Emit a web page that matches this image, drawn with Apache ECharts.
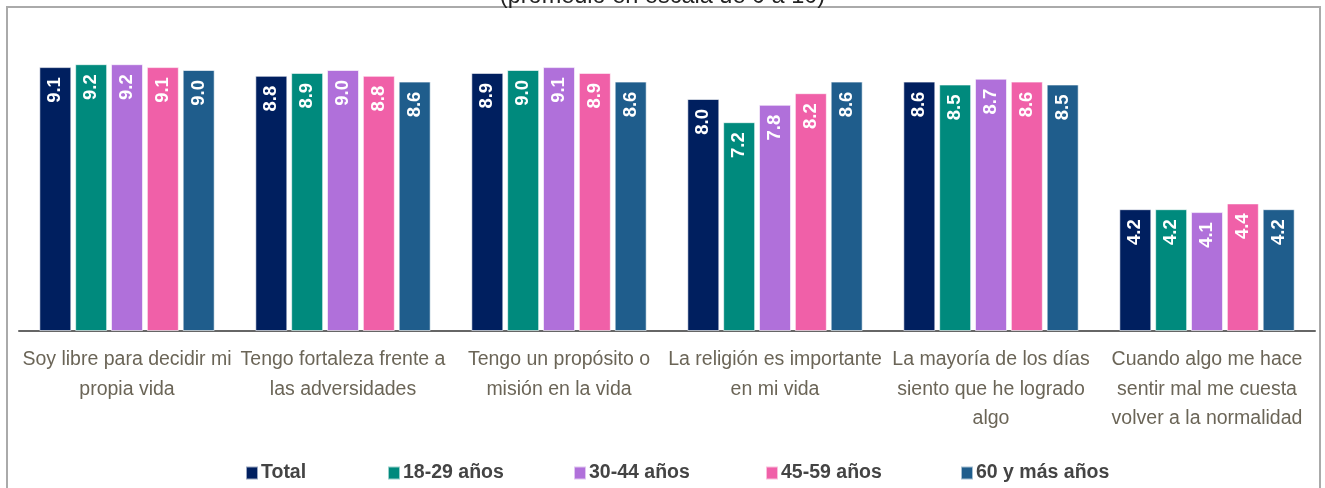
<!DOCTYPE html>
<html>
<head>
<meta charset="utf-8">
<script src="https://cdn.jsdelivr.net/npm/echarts@6/dist/echarts.min.js"></script>
<style>
html, body { margin: 0; padding: 0; background: #fff; }
#main { width: 1325px; height: 488px; }
</style>
</head>
<body>
<div id="main"></div>
<script>
var categories = [
  'Soy libre para decidir mi\npropia vida',
  'Tengo fortaleza frente a\nlas adversidades',
  'Tengo un propósito o\nmisión en la vida',
  'La religión es importante\nen mi vida',
  'La mayoría de los días\nsiento que he logrado\nalgo',
  'Cuando algo me hace\nsentir mal me cuesta\nvolver a la normalidad'
];
var seriesNames = ['Total', '18-29 años', '30-44 años', '45-59 años', '60 y más años'];
var total = [9.1, 8.8, 8.9, 8.0, 8.6, 4.2];
var age18_29 = [9.2, 8.9, 9.0, 7.2, 8.5, 4.2];
var age30_44 = [9.2, 9.0, 9.1, 7.8, 8.7, 4.1];
var age45_59 = [9.1, 8.8, 8.9, 8.2, 8.6, 4.4];
var age60 = [9.0, 8.6, 8.6, 8.6, 8.5, 4.2];
var colors = ['#001f5f', '#008a7d', '#b070da', '#f060a8', '#1f5d8c'];
var legendLeft = [240, 382, 568, 760, 955];

var font = '"Liberation Sans", Arial, sans-serif';

var chart1 = echarts.init(document.getElementById('main'));

var allData = [total, age18_29, age30_44, age45_59, age60];

var series = allData.map(function (d, i) {
  return {
    name: seriesNames[i],
    type: 'bar',
    data: d,
    barWidth: 32,
    barGap: '12%',
    itemStyle: { color: colors[i], borderColor: 'rgba(255,255,255,0.6)', borderWidth: 1 },
    label: {
      show: true,
      position: 'insideTop',
      rotate: 90,
      align: 'right',
      verticalAlign: 'middle',
      distance: 10,
      color: '#fff',
      fontFamily: font,
      fontWeight: 'bold',
      fontSize: 18.5,
      formatter: function (p) { return p.value.toFixed(1); }
    }
  };
});

var legends = seriesNames.map(function (n, i) {
  return {
    data: [n],
    left: legendLeft[i],
    top: 458,
    itemWidth: 12,
    itemHeight: 13,
    itemGap: 4,
    icon: 'rect',
    selectedMode: false,
    textStyle: {
      fontFamily: font,
      fontWeight: 'bold',
      fontSize: 19.5,
      color: '#444',
      padding: [0, 0, 0, -2]
    }
  };
});

var option = {
  animation: false,
  title: {
    text: '(promedio en escala de 0 a 10)',
    left: 'center',
    top: -20,
    textStyle: { fontFamily: font, fontWeight: 'normal', fontSize: 23.5, color: '#222' }
  },
  graphic: [{
    type: 'rect',
    shape: { x: 7, y: 7, width: 1313, height: 490 },
    style: { fill: 'none', stroke: '#aaaaaa', lineWidth: 2 },
    silent: true,
    z: -1
  }],
  legend: legends,
  grid: { left: 19, right: 10, top: 41, height: 290 },
  xAxis: [{
    type: 'category',
    data: categories,
    axisTick: { show: false },
    axisLine: { lineStyle: { color: '#666', width: 2 } },
    axisLabel: {
      interval: 0,
      margin: 14,
      fontFamily: font,
      fontSize: 19.5,
      lineHeight: 29.5,
      color: '#6b6557'
    }
  }],
  yAxis: [{
    type: 'value',
    min: 0,
    max: 10,
    show: false,
    splitLine: { show: false }
  }],
  series: series
};

chart1.setOption(option);
</script>
</body>
</html>
